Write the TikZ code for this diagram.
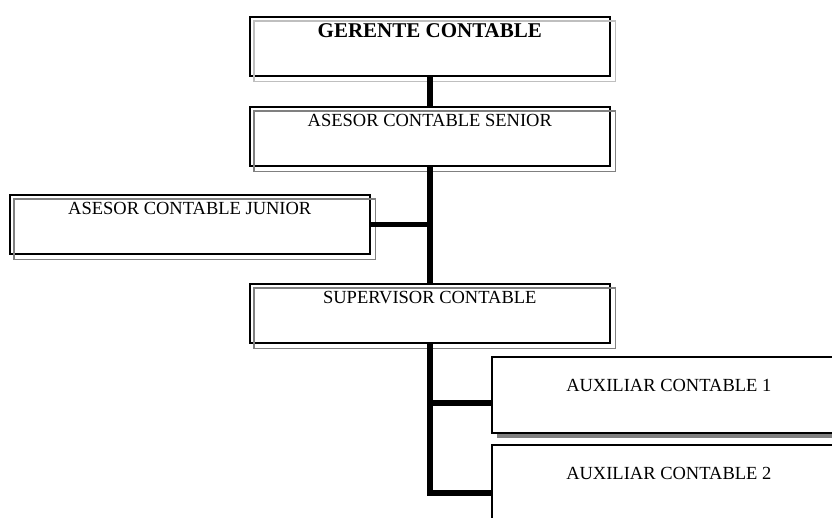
\documentclass[tikz,border=0pt]{standalone}
\usepackage{fontspec}
\setmainfont{Liberation Serif}
\usetikzlibrary{positioning,calc,shadows}

\begin{document}
\begin{tikzpicture}[x=1pt,y=-1pt,font=\fontsize{18.5}{20}\selectfont]
\tikzstyle{b}=[draw,line width=1.6pt,inner sep=0pt,minimum width=360pt,text height=20pt,text depth=39pt,anchor=north west]
\tikzstyle{aux}=[b,fill=white,minimum width=354pt,text height=35pt,text depth=41pt,drop shadow={shadow xshift=5pt,shadow yshift=-5pt,fill=black!50,opacity=1}]
\tikzstyle{conn}=[line width=5.5pt]
\useasboundingbox (0,0) rectangle (832,517);
% boxes, then the grey outline copies and the connectors
\node[b,font=\fontsize{21}{24}\selectfont\bfseries,text height=21pt,text depth=38pt] (ger) at (249,16) {GERENTE CONTABLE};
\node[b] (sen) at (249,106) {ASESOR CONTABLE SENIOR};
\node[b] (jun) at (9,194) {ASESOR CONTABLE JUNIOR};
\node[b] (sup) at (249,283) {SUPERVISOR CONTABLE};
\node[aux] (aux1) at (491,356) {AUXILIAR CONTABLE 1};
\node[aux] (aux2) at (491,444) {AUXILIAR CONTABLE 2};
\foreach \n/\c in {ger/25,sen/50,jun/50,sup/50} \draw[black!\c,line width=1.4pt] ([shift={(5pt,-5pt)}]\n.south west) rectangle ([shift={(5pt,-5pt)}]\n.north east);
\coordinate (j1) at ([yshift=-8pt]aux1.west); \coordinate (j2) at ([yshift=-10pt]aux2.west);
\draw[conn] (ger.south) -- (sen.north); \draw[conn] (sen.south) -- (sup.north);
\draw[conn] (jun.east) -- (jun.east -| sen.south);
\draw[conn] (sup.south) |- (j2); \draw[conn] (sup.south |- j1) -- (j1);
\end{tikzpicture}
\end{document}
